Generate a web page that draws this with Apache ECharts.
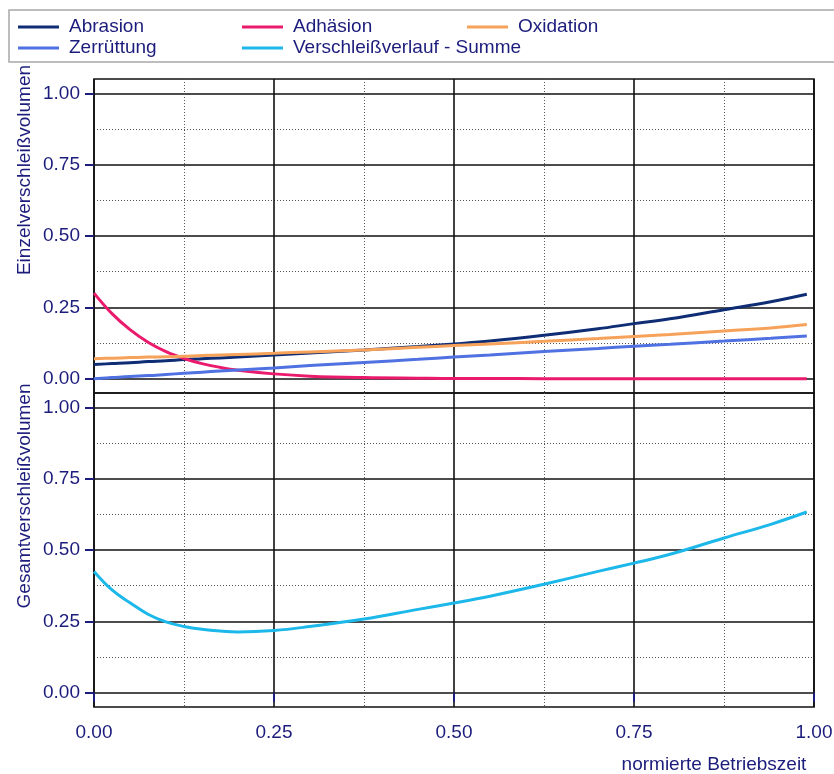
<!DOCTYPE html>
<html>
<head>
<meta charset="utf-8">
<script src="https://cdn.jsdelivr.net/npm/echarts@6/dist/echarts.min.js"></script>
<style>
  html, body { margin: 0; padding: 0; background: #ffffff; }
  #chart { width: 834px; height: 774px; }
</style>
</head>
<body>
<div id="chart"></div>
<script>
// Normalised operating time (x) and wear volumes per mechanism
const zeit = [0, 0.025, 0.05, 0.075, 0.1, 0.125, 0.15, 0.175, 0.2, 0.25, 0.3, 0.375,
              0.45, 0.5, 0.55, 0.625, 0.7, 0.75, 0.8, 0.875, 0.94, 0.99];

const abrasion   = [0.05, 0.053, 0.056, 0.06, 0.063, 0.067, 0.07, 0.073, 0.076, 0.083, 0.09, 0.101,
                    0.113, 0.122, 0.132, 0.152, 0.175, 0.193, 0.21, 0.242, 0.27, 0.296];
const adhaesion  = [0.30, 0.228, 0.172, 0.128, 0.095, 0.071, 0.053, 0.04, 0.03, 0.017, 0.009, 0.004,
                    0.002, 0.001, 0.001, 0, 0, 0, 0, 0, 0, 0];
const oxidation  = [0.07, 0.072, 0.074, 0.076, 0.077, 0.079, 0.081, 0.083, 0.085, 0.089, 0.094, 0.101,
                    0.11, 0.116, 0.122, 0.131, 0.141, 0.148, 0.155, 0.167, 0.178, 0.19];
const zerruettung = [0, 0.004, 0.008, 0.011, 0.015, 0.019, 0.023, 0.027, 0.031, 0.038, 0.046, 0.057,
                    0.068, 0.076, 0.083, 0.095, 0.106, 0.114, 0.121, 0.132, 0.142, 0.15];
const summe      = [0.425, 0.36, 0.315, 0.275, 0.248, 0.232, 0.222, 0.216, 0.213, 0.218, 0.232, 0.258,
                    0.292, 0.314, 0.338, 0.38, 0.425, 0.454, 0.485, 0.542, 0.59, 0.633];

const seriesNames = ['Abrasion', 'Adhäsion', 'Oxidation', 'Zerrüttung', 'Verschleißverlauf - Summe'];
const yTicks = [0, 0.25, 0.5, 0.75, 1];
const yMinorTicks = [0.125, 0.375, 0.625, 0.875];
const yTitles = ['Einzelverschleißvolumen', 'Gesamtverschleißvolumen'];
const xTitle = 'normierte Betriebszeit';

// ---- styling ----
const FONT = '"Liberation Sans", Arial, Helvetica, sans-serif';
const NAVY = '#1c1c7c';
const colors = ['#0f2d74', '#ea1a6c', '#f6a25a', '#5071e2', '#1cb8ea'];
const GRID_LEFT = 94, GRID_W = 720, TOP1 = 79, PANEL_H = 314;

const pairs = ys => zeit.map((x, i) => [x, ys[i]]);

function xAxisFor(gridIndex, withLabels) {
  return {
    type: 'value', gridIndex: gridIndex, min: 0, max: 1, interval: 0.25,
    axisLine: { show: false },
    axisTick: { show: withLabels, length: 9, lineStyle: { color: NAVY, width: 2 } },
    axisLabel: {
      show: withLabels, margin: 16, fontSize: 19, fontFamily: FONT, color: NAVY,
      formatter: v => v.toFixed(2)
    },
    splitLine: { show: true, lineStyle: { color: '#111', width: 1.6 } },
    minorTick: { show: false, splitNumber: 2 },
    minorSplitLine: { show: true, lineStyle: { color: '#555', width: 1, type: [1, 2] } }
  };
}

function yMajor(gridIndex) {
  return {
    type: 'value', gridIndex: gridIndex, min: -0.05, max: 1.05, position: 'left',
    axisLine: { show: false },
    axisTick: { show: true, length: 9, customValues: yTicks, lineStyle: { color: NAVY, width: 2 } },
    axisLabel: {
      show: true, margin: 14, fontSize: 19, fontFamily: FONT, color: NAVY,
      customValues: yTicks, formatter: v => v.toFixed(2)
    },
    splitLine: { show: true, lineStyle: { color: '#111', width: 1.6 } }
  };
}

function yMinor(gridIndex) {
  return {
    type: 'value', gridIndex: gridIndex, min: -0.05, max: 1.05, position: 'left',
    axisLine: { show: false },
    axisTick: { show: false, customValues: yMinorTicks },
    axisLabel: { show: false, customValues: yMinorTicks },
    splitLine: { show: true, lineStyle: { color: '#555', width: 1, type: [1, 2] } }
  };
}

const legendPos = [
  { left: 18, top: 17 }, { left: 242, top: 17 }, { left: 467, top: 17 },
  { left: 18, top: 38 }, { left: 242, top: 38 }
];

const chart = echarts.init(document.getElementById('chart'), null, { renderer: 'canvas' });

const lineSeries = (name, ys, xi, yi, color) => ({
  name: name, type: 'line', xAxisIndex: xi, yAxisIndex: yi,
  data: pairs(ys), symbol: 'none', smooth: 0.4,
  lineStyle: { color: color, width: 3 }, itemStyle: { color: color },
  z: 5, silent: true, animation: false
});

chart.setOption({
  backgroundColor: '#ffffff',
  animation: false,
  color: colors,
  grid: [
    { left: GRID_LEFT, top: TOP1, width: GRID_W, height: PANEL_H, show: true,
      borderColor: '#111', borderWidth: 1.6, backgroundColor: 'transparent', outerBoundsMode: 'none' },
    { left: GRID_LEFT, top: TOP1 + PANEL_H, width: GRID_W, height: PANEL_H, show: true,
      borderColor: '#111', borderWidth: 1.6, backgroundColor: 'transparent', outerBoundsMode: 'none' }
  ],
  xAxis: [xAxisFor(0, false), xAxisFor(1, true)],
  yAxis: [yMajor(0), yMinor(0), yMajor(1), yMinor(1)],
  legend: seriesNames.map((n, i) => ({
    data: [n], left: legendPos[i].left, top: legendPos[i].top,
    icon: 'rect', itemWidth: 41, itemHeight: 3, padding: 0, selectedMode: false,
    textStyle: { fontSize: 19, fontFamily: FONT, color: NAVY, lineHeight: 20, padding: [0, 0, 0, 5] }
  })),
  series: [
    lineSeries(seriesNames[0], abrasion, 0, 0, colors[0]),
    lineSeries(seriesNames[1], adhaesion, 0, 0, colors[1]),
    lineSeries(seriesNames[2], oxidation, 0, 0, colors[2]),
    lineSeries(seriesNames[3], zerruettung, 0, 0, colors[3]),
    lineSeries(seriesNames[4], summe, 1, 2, colors[4])
  ],
  graphic: [
    { type: 'rect', shape: { x: 9, y: 10, width: 840, height: 52 },
      style: { fill: 'none', stroke: '#a8a8a8', lineWidth: 1.5 }, z: 0, silent: true },
    { type: 'text', x: 25, y: 170, rotation: Math.PI / 2,
      style: { text: yTitles[0], font: '19px ' + FONT, fill: NAVY, align: 'center', verticalAlign: 'middle' } },
    { type: 'text', x: 25, y: 496, rotation: Math.PI / 2,
      style: { text: yTitles[1], font: '19px ' + FONT, fill: NAVY, align: 'center', verticalAlign: 'middle' } },
    { type: 'text', x: 714, y: 765,
      style: { text: xTitle, font: '19px ' + FONT, fill: NAVY, align: 'center', verticalAlign: 'middle' } }
  ]
});
</script>
</body>
</html>
